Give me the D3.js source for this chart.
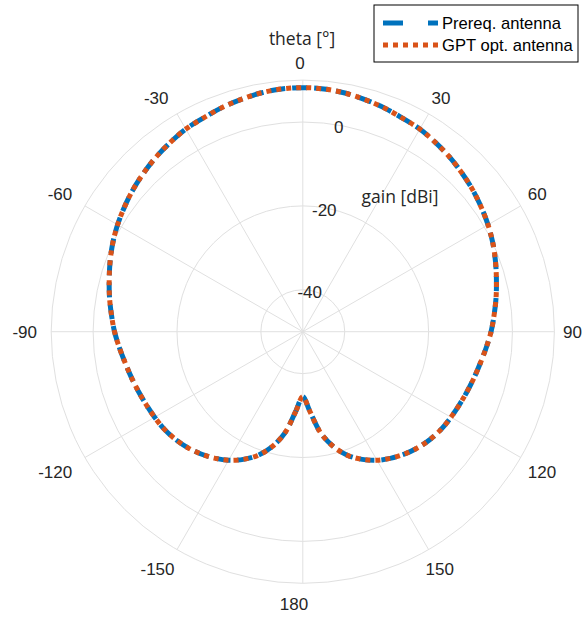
<!DOCTYPE html>
<html>
<head>
<meta charset="utf-8">
<script src="https://cdn.jsdelivr.net/npm/d3@7"></script>
<style>
  body { margin: 0; background: #fff; }
  svg { display: block; }
</style>
</head>
<body>
<svg id="chart" width="583" height="617"></svg>
<script>
/* data */
var thetaDeg = [-180, -175, -170, -165, -160, -155, -150, -145, -140, -135, -130, -125,
  -120, -115, -110, -105, -100, -95, -90, -85, -80, -75, -70, -65,
  -60, -55, -50, -45, -40, -35, -30, -25, -20, -15, -10, -5,
  0, 5, 10, 15, 20, 25, 30, 35, 40, 45, 50, 55,
  60, 65, 70, 75, 80, 85, 90, 95, 100, 105, 110, 115,
  120, 125, 130, 135, 140, 145, 150, 155, 160, 165, 170, 175];

var gainPrereq = [-34.5, -31.0, -25.5, -21.6, -18.6, -16.4, -14.6, -13.2, -12.0, -11.0, -10.2, -9.6,
  -9.2, -8.8, -8.3, -7.7, -7.0, -6.1, -5.1, -4.2, -3.2, -2.2, -1.1, 0.0,
  1.0, 1.9, 2.8, 3.6, 4.4, 5.1, 5.8, 6.2, 6.8, 7.3, 7.8, 8.1,
  8.2, 8.1, 7.8, 7.3, 6.8, 6.2, 5.8, 5.1, 4.4, 3.6, 2.8, 1.9,
  1.0, 0.0, -1.1, -2.2, -3.2, -4.2, -5.1, -6.1, -7.0, -7.7, -8.3, -8.8,
  -9.2, -9.6, -10.2, -11.0, -12.0, -13.2, -14.6, -16.4, -18.6, -21.6, -25.5, -31.0];

var gainGpt = [-34.5, -31.0, -25.5, -21.6, -18.6, -16.4, -14.6, -13.2, -12.0, -11.0, -10.2, -9.6,
  -9.2, -8.8, -8.3, -7.7, -7.0, -6.1, -5.1, -4.2, -3.2, -2.2, -1.1, 0.0,
  1.0, 1.9, 2.8, 3.6, 4.4, 5.1, 5.8, 6.2, 6.8, 7.3, 7.8, 8.1,
  8.2, 8.1, 7.8, 7.3, 6.8, 6.2, 5.8, 5.1, 4.4, 3.6, 2.8, 1.9,
  1.0, 0.0, -1.1, -2.2, -3.2, -4.2, -5.1, -6.1, -7.0, -7.7, -8.3, -8.8,
  -9.2, -9.6, -10.2, -11.0, -12.0, -13.2, -14.6, -16.4, -18.6, -21.6, -25.5, -31.0];

var thetaTicks = [0, 30, 60, 90, 120, 150, 180, -150, -120, -90, -60, -30];
var rTicks = [-40, -20, 0];
var rLim = [-50, 10];
var seriesNames = ["Prereq. antenna", "GPT opt. antenna"];

/* layout */
var cx = 302.8, cy = 331.7, R = 251.6;

var svg = d3.select("svg#chart");
var g = svg.append("g").attr("transform", "translate(" + cx + "," + cy + ")");

var r = d3.scaleLinear().domain(rLim).range([0, R]);
var toRad = function (d) { return d * Math.PI / 180; };

var gridColor = "#e0e0e0";
var tickColor = "#262626";

/* grid circles */
g.selectAll("circle.ring")
  .data(rTicks.concat([rLim[1]]))
  .enter()
  .append("circle")
  .attr("class", "ring")
  .attr("r", function (d) { return r(d); })
  .attr("fill", "none")
  .attr("stroke", gridColor)
  .attr("stroke-width", 1);

/* spokes */
g.selectAll("line.spoke")
  .data(thetaTicks)
  .enter()
  .append("line")
  .attr("class", "spoke")
  .attr("x1", 0).attr("y1", 0)
  .attr("x2", function (d) { return R * Math.sin(toRad(d)); })
  .attr("y2", function (d) { return -R * Math.cos(toRad(d)); })
  .attr("stroke", gridColor)
  .attr("stroke-width", 1);

/* theta tick labels: anchored on a circle outside the axes, aligned away from it */
var labelR = 263, labelDx = -2.8, cap = 12.2;
g.selectAll("text.ttick")
  .data(thetaTicks)
  .enter()
  .append("text")
  .attr("class", "ttick")
  .attr("x", function (d) {
    var s = Math.sin(toRad(d)), c = Math.cos(toRad(d));
    // lower labels sit a little closer to the vertical
    var pull = c < -0.6 ? -6 * Math.sign(s) : 0;
    return labelDx + labelR * s + pull;
  })
  .attr("y", function (d) {
    var c = Math.cos(toRad(d));
    var off = c > 0.3 ? 0 : (c < -0.3 ? cap + 3 : cap / 2);
    return -labelR * c + off;
  })
  .attr("text-anchor", function (d) {
    var s = Math.sin(toRad(d));
    return s > 0.1 ? "start" : (s < -0.1 ? "end" : "middle");
  })
  .attr("font-family", "'Liberation Sans', Arial, sans-serif")
  .attr("font-size", 17)
  .attr("fill", tickColor)
  .text(function (d) { return d; });

/* radial tick labels */
var rLabelAngle = toRad(10);
g.selectAll("text.rtick")
  .data(rTicks)
  .enter()
  .append("text")
  .attr("class", "rtick")
  .attr("x", function (d) { return (r(d) - 2) * Math.sin(rLabelAngle); })
  .attr("y", function (d) { return -(r(d) - 2) * Math.cos(rLabelAngle) + 6; })
  .attr("text-anchor", "middle")
  .attr("font-family", "'Liberation Sans', Arial, sans-serif")
  .attr("font-size", 17)
  .attr("fill", tickColor)
  .text(function (d) { return d; });

/* curves */
var series = [
  { name: seriesNames[0], values: gainPrereq, color: "#0072BD", dash: "15,7" },
  { name: seriesNames[1], values: gainGpt, color: "#D95319", dash: "5,5" }
];

var line = d3.lineRadial()
  .angle(function (d) { return toRad(d[0]); })
  .radius(function (d) { return r(d[1]); })
  .curve(d3.curveCatmullRomClosed);

g.selectAll("path.trace")
  .data(series)
  .enter()
  .append("path")
  .attr("class", "trace")
  .attr("d", function (s) { return line(thetaDeg.map(function (t, i) { return [t, s.values[i]]; })); })
  .attr("fill", "none")
  .attr("stroke", function (s) { return s.color; })
  .attr("stroke-width", 5)
  .attr("stroke-dasharray", function (s) { return s.dash; });

/* axis titles */
svg.append("text")
  .attr("x", 302).attr("y", 45)
  .attr("text-anchor", "middle")
  .attr("font-family", "'Open Sans', 'Noto Sans', sans-serif")
  .attr("font-size", 17.5)
  .attr("fill", tickColor)
  .text("theta [°]");

svg.append("text")
  .attr("x", 400).attr("y", 203)
  .attr("text-anchor", "middle")
  .attr("font-family", "'Open Sans', 'Noto Sans', sans-serif")
  .attr("font-size", 17.5)
  .attr("fill", tickColor)
  .text("gain [dBi]");

/* legend */
var legend = svg.append("g").attr("transform", "translate(374,5)");
legend.append("rect")
  .attr("x", 0).attr("y", 0)
  .attr("width", 204).attr("height", 57)
  .attr("fill", "#fff")
  .attr("stroke", "#000")
  .attr("stroke-width", 1);

var item = legend.selectAll("g.item")
  .data(series)
  .enter()
  .append("g")
  .attr("class", "item")
  .attr("transform", function (d, i) { return "translate(0," + (18 + i * 22) + ")"; });

item.append("line")
  .attr("x1", 9).attr("x2", 64)
  .attr("y1", 0).attr("y2", 0)
  .attr("stroke", function (d) { return d.color; })
  .attr("stroke-width", 5)
  .attr("stroke-dasharray", function (d, i) { return i === 0 ? "20,25" : "5,5"; });

item.append("text")
  .attr("x", 68).attr("y", 6)
  .attr("font-family", "'Liberation Sans', Arial, sans-serif")
  .attr("font-size", 16.6)
  .attr("fill", "#000")
  .text(function (d) { return d.name; });
</script>
</body>
</html>
